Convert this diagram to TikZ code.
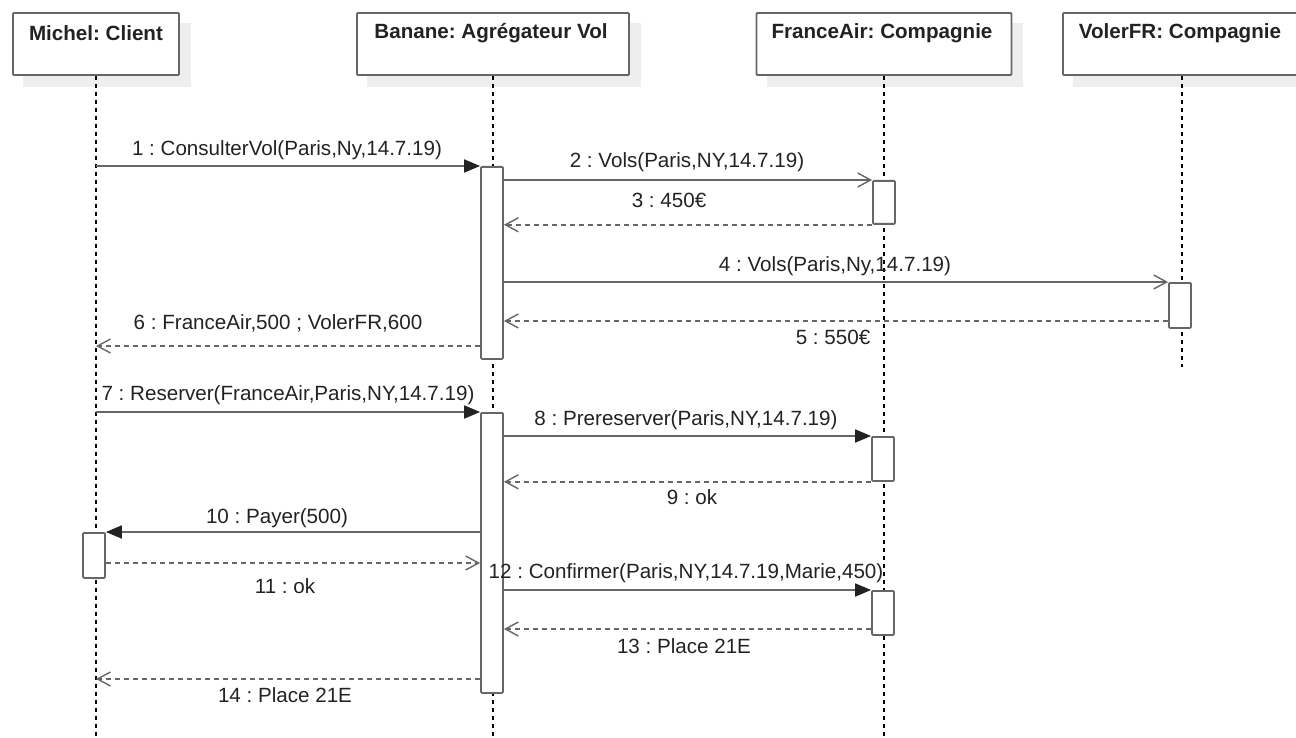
\documentclass[tikz,border=0pt]{standalone}
\usepackage{fontspec}
\setmainfont{Liberation Sans}
\usetikzlibrary{arrows.meta,backgrounds}
\definecolor{ln}{HTML}{666666}
\definecolor{tx}{HTML}{222222}
\definecolor{shd}{HTML}{EEEEEE}
\frenchspacing
\begin{document}
\begin{tikzpicture}[x=1pt,y=-1pt,
  font=\fontsize{20.6}{24}\selectfont,
  headbox/.style={draw=ln, line width=1.8pt, fill=white, minimum height=62pt, inner sep=0pt, rounded corners=1pt},
  headtext/.style={text=tx, inner sep=0pt, font=\fontsize{20.6}{24}\selectfont\bfseries},
  actbox/.style={draw=ln, line width=1.8pt, fill=white, minimum width=22pt, inner sep=0pt, anchor=north, rounded corners=1pt},
  lifeline/.style={draw=black, line width=1.2pt, dash pattern=on 4pt off 4pt},
  sync/.style={draw=ln, line width=1.8pt, -{Triangle[length=16pt,width=13pt,color=tx]}},
  async/.style={draw=ln, line width=1.8pt, -{Straight Barb[length=13pt,width=14pt,line width=1.4pt]}},
  ret/.style={draw=ln, line width=1.8pt, dash pattern=on 5pt off 4pt, -{Straight Barb[length=13pt,width=14pt,line width=1.4pt]}},
  lbl/.style={text=tx, inner sep=0pt}
]
\useasboundingbox (0,0) rectangle (1296,738);
\clip (0,0) rectangle (1296,738);

% header boxes
\path (96,44) node[headbox, minimum width=166pt] (michel) {};
\path (493,44) node[headbox, minimum width=272pt] (banane) {};
\path (884,44) node[headbox, minimum width=255pt] (france) {};
\path (1182,44) node[headbox, minimum width=238pt] (voler) {};

\node[headtext] (michelT) at (96,33) {Michel: Client};
\node[headtext] (bananeT) at (491,33) {Banane: Agrégateur Vol};
\node[headtext] (franceT) at (882,33) {FranceAir: Compagnie};
\node[headtext] (volerT) at (1180,33) {VolerFR: Compagnie};

% lifeline ends
\coordinate (mEnd) at (96,738);
\coordinate (bEnd) at (493,738);
\coordinate (fEnd) at (884,738);
\coordinate (vEnd) at (1182,367);

\begin{pgfonlayer}{background}
\foreach \n in {michel,banane,france,voler}{
  \fill[shd] ([xshift=11pt,yshift=-11pt]\n.south west) rectangle ([xshift=11pt,yshift=-11pt]\n.north east);
}
\draw[lifeline] (michel.south) -- (mEnd);
\draw[lifeline] (banane.south) -- (bEnd);
\draw[lifeline] (france.south) -- (fEnd);
\draw[lifeline] (voler.south) -- (vEnd);
\end{pgfonlayer}

% activation boxes
\node[actbox, minimum height=192pt] (b1) at (492,166) {};
\node[actbox, minimum height=43pt] (f1) at (884,180) {};
\node[actbox, minimum height=45pt] (v1) at (1180,282) {};
\node[actbox, minimum height=280pt] (b2) at (492,412) {};
\node[actbox, minimum height=44pt] (f2) at (883,436) {};
\node[actbox, minimum height=45pt] (m1) at (94,532) {};
\node[actbox, minimum height=44pt] (f3) at (883,590) {};

% messages
\draw[sync] (michel.south |- b1.north) -- (b1.north west);
\draw[async] (b1.east |- f1.north) -- (f1.north west);
\draw[ret] (f1.south west) -- (b1.east |- f1.south);
\draw[async] (b1.east |- v1.north) -- (v1.north west);
\draw[ret] (v1.west |- 0,321) -- (b1.east |- 0,321);
\draw[ret] (b1.west |- 0,346) -- (michel.south |- 0,346);
\draw[sync] (michel.south |- b2.north) -- (b2.north west);
\draw[sync] (b2.east |- f2.north) -- (f2.north west);
\draw[ret] (f2.south west) -- (b2.east |- f2.south);
\draw[sync] (b2.west |- m1.north) -- (m1.north east);
\draw[ret] (m1.east |- 0,563) -- (b2.west |- 0,563);
\draw[sync] (b2.east |- f3.north) -- (f3.north west);
\draw[ret] (f3.west |- 0,629) -- (b2.east |- 0,629);
\draw[ret] (b2.west |- 0,679) -- (michel.south |- 0,679);

% labels
\node[lbl] (l1) at (287,150) {1 : ConsulterVol(Paris,Ny,14.7.19)};
\node[lbl] (l2) at (687,162) {2 : Vols(Paris,NY,14.7.19)};
\node[lbl] (l3) at (669,200) {3 : 450€};
\node[lbl] (l4) at (835,266) {4 : Vols(Paris,Ny,14.7.19)};
\node[lbl] (l5) at (833,337) {5 : 550€};
\node[lbl] (l6) at (278,323) {6 : FranceAir,500 ; VolerFR,600};
\node[lbl] (l7) at (288,395) {7 : Reserver(FranceAir,Paris,NY,14.7.19)};
\node[lbl] (l8) at (686,420) {8 : Prereserver(Paris,NY,14.7.19)};
\node[lbl] (l9) at (692,497) {9 : ok};
\node[lbl] (l10) at (277,518) {10 : Payer(500)};
\node[lbl] (l11) at (285,586) {11 : ok};
\node[lbl] (l12) at (686,573) {12 : Confirmer(Paris,NY,14.7.19,Marie,450)};
\node[lbl] (l13) at (684,646) {13 : Place 21E};
\node[lbl] (l14) at (285,695) {14 : Place 21E};
\end{tikzpicture}
\end{document}
